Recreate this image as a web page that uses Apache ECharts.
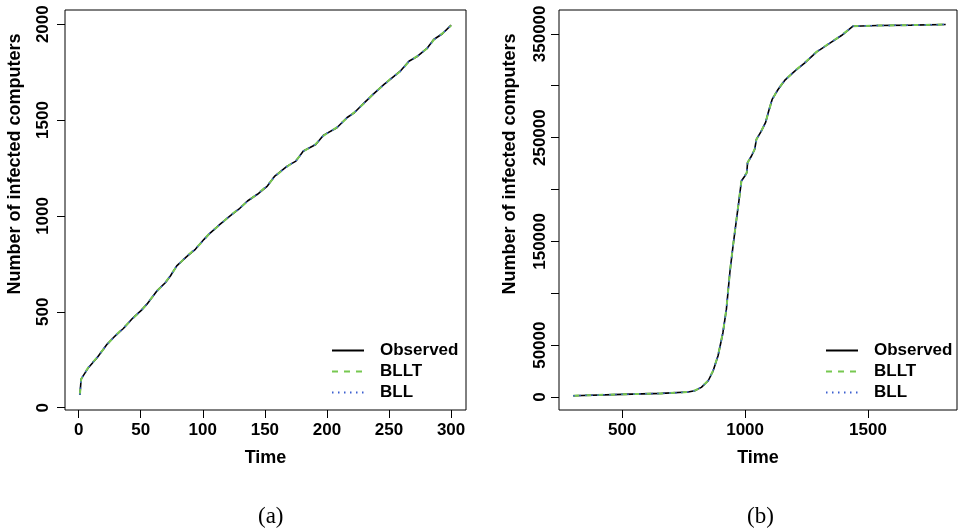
<!DOCTYPE html>
<html>
<head>
<meta charset="utf-8">
<script src="https://cdn.jsdelivr.net/npm/echarts@6/dist/echarts.min.js"></script>
<style>
  html, body { margin: 0; padding: 0; background: #fff; }
  #chart { width: 958px; height: 530px; }
</style>
</head>
<body>
<div id="chart"></div>
<script>
// panel (a): first 300 time steps
const timeA = [1, 2, 4, 8, 15, 23, 29.5, 36, 44, 50, 55, 63, 70, 74, 79, 87, 94, 101, 105, 114, 122, 129, 136, 144, 152, 158, 168, 175, 181, 191, 197, 208, 216, 222, 230, 238, 246, 251, 259, 266, 273, 281, 286, 293, 300];
const observedA = [66, 149, 170, 210, 262, 332, 375, 413, 470, 505, 540, 609, 653, 688, 740, 788, 826, 878, 905, 957, 1000, 1035, 1078, 1113, 1156, 1208, 1260, 1286, 1339, 1373, 1420, 1460, 1512, 1538, 1590, 1639, 1686, 1712, 1755, 1807, 1833, 1877, 1920, 1950, 1995];
const blltA = [68, 147, 172, 212, 264, 330, 376, 415, 468, 503, 542, 607, 655, 690, 738, 790, 828, 876, 907, 955, 1002, 1037, 1076, 1115, 1158, 1206, 1258, 1288, 1337, 1375, 1418, 1462, 1510, 1540, 1588, 1641, 1684, 1714, 1753, 1805, 1835, 1875, 1918, 1952, 1993];
const bllA = [67, 148, 171, 211, 263, 331, 375, 414, 469, 504, 541, 608, 654, 689, 739, 789, 827, 877, 906, 956, 1001, 1036, 1077, 1114, 1157, 1207, 1259, 1287, 1338, 1374, 1419, 1461, 1511, 1539, 1589, 1640, 1685, 1713, 1754, 1806, 1834, 1876, 1919, 1951, 1994];

// panel (b): full period
const timeB = [301, 500, 660, 768, 795, 822, 850, 870, 890, 910, 924, 938, 951, 965, 974, 985, 999, 1007, 1010, 1026, 1039, 1046, 1066, 1083, 1096, 1110, 1134, 1161, 1202, 1243, 1290, 1351, 1392, 1439, 1541, 1676, 1816];
const observedB = [1300, 2600, 3500, 4800, 6100, 9300, 15700, 25300, 39800, 62200, 84700, 120000, 145700, 171300, 187400, 208200, 213000, 216200, 225900, 232300, 238700, 248300, 256300, 264400, 275600, 286800, 296400, 305100, 314100, 322100, 332400, 342000, 348400, 357400, 358000, 358400, 359000];
const blltB = [1300, 2600, 3500, 4800, 6200, 9400, 15900, 25500, 40100, 62500, 85000, 120300, 146000, 171500, 187600, 208000, 213200, 216400, 225700, 232500, 238900, 248100, 256500, 264600, 275400, 286600, 296600, 305300, 314300, 322300, 332600, 342200, 348600, 357400, 358000, 358400, 359000];
const bllB = [1300, 2600, 3500, 4800, 6150, 9350, 15800, 25400, 39900, 62300, 84800, 120100, 145800, 171400, 187500, 208100, 213100, 216300, 225800, 232400, 238800, 248200, 256400, 264500, 275500, 286700, 296500, 305200, 314200, 322200, 332500, 342100, 348500, 357400, 358000, 358400, 359000];

const ticksA_x = [0, 50, 100, 150, 200, 250, 300];
const ticksA_y = [0, 500, 1000, 1500, 2000];
const ticksB_x = [500, 1000, 1500];
const ticksB_y = [0, 50000, 100000, 150000, 200000, 250000, 300000, 350000];
const labelsB_y = [0, 50000, 150000, 250000, 350000];

const font = "Liberation Sans, Arial, sans-serif";
const pair = (xs, ys) => xs.map((x, i) => [x, ys[i]]);

const xAxisOf = (idx, min, max, ticks) => ({
  type: "value",
  gridIndex: idx,
  min: min,
  max: max,
  name: "Time",
  nameLocation: "middle",
  nameGap: 39,
  nameTextStyle: { fontFamily: font, fontWeight: "bold", fontSize: 18, color: "#000" },
  axisLine: { show: false, onZero: false },
  axisTick: { show: true, inside: false, length: 8, lineStyle: { color: "#000" }, customValues: ticks },
  axisLabel: {
    customValues: ticks,
    margin: 12,
    fontFamily: font, fontWeight: "bold", fontSize: 17, color: "#000",
    formatter: v => String(v)
  },
  splitLine: { show: false }
});

const yAxisOf = (idx, min, max, ticks, labels) => ({
  type: "value",
  gridIndex: idx,
  min: min,
  max: max,
  name: "Number of infected computers",
  nameLocation: "middle",
  nameRotate: 90,
  nameGap: idx === 0 ? 41 : 40,
  nameTextStyle: {
    fontFamily: font, fontWeight: "bold", fontSize: 18, color: "#000",
    padding: [0, 0, 0, 92]
  },
  axisLine: { show: false, onZero: false },
  axisTick: { show: true, inside: false, length: 8, lineStyle: { color: "#000" }, customValues: ticks },
  axisLabel: {
    customValues: labels,
    rotate: 90,
    margin: idx === 0 ? 13 : 10,
    fontFamily: font, fontWeight: "bold", fontSize: 17, color: "#000",
    formatter: v => String(v)
  },
  splitLine: { show: false }
});

const seriesOf = (idx, xs, obs, bllt, bll) => [
  {
    name: "Observed", type: "line", xAxisIndex: idx, yAxisIndex: idx,
    data: pair(xs, obs), symbol: "none", smooth: false,
    lineStyle: { color: "#000", width: 1.6, type: "solid" }, itemStyle: { color: "#000" }
  },
  {
    name: "BLLT", type: "line", xAxisIndex: idx, yAxisIndex: idx,
    data: pair(xs, bllt), symbol: "none", smooth: false,
    lineStyle: { color: "#77c850", width: 2, type: [6, 6] }, itemStyle: { color: "#77c850" }
  },
  {
    name: "BLL", type: "line", xAxisIndex: idx, yAxisIndex: idx,
    data: pair(xs, bll), symbol: "none", smooth: false,
    lineStyle: { color: "#3c5fd0", width: 1.5, type: [1.5, 4.5] }, itemStyle: { color: "#3c5fd0" }
  }
];

const legendOf = left => ({
  orient: "vertical",
  left: left,
  top: 342,
  padding: 0,
  itemWidth: 32,
  itemHeight: 14,
  itemGap: 4,
  selectedMode: false,
  data: ["Observed", "BLLT", "BLL"],
  itemStyle: { opacity: 0 },
  textStyle: { fontFamily: font, fontWeight: "bold", fontSize: 17, color: "#000", padding: [0, 0, 0, 11] }
});

const myChart = echarts.init(document.getElementById("chart"), null, { renderer: "canvas" });

const option = {
  animation: false,
  backgroundColor: "#fff",
  title: [
    { text: "(a)", left: 253, top: 500, textStyle: { fontFamily: "Liberation Serif, serif", fontWeight: "normal", fontSize: 23, color: "#000" } },
    { text: "(b)", left: 742, top: 500, textStyle: { fontFamily: "Liberation Serif, serif", fontWeight: "normal", fontSize: 23, color: "#000" } }
  ],
  grid: [
    { left: 65, top: 10, width: 401, height: 400, show: true, borderColor: "#000", borderWidth: 1, backgroundColor: "transparent" },
    { left: 559, top: 10, width: 398, height: 400, show: true, borderColor: "#000", borderWidth: 1, backgroundColor: "transparent" }
  ],
  xAxis: [
    xAxisOf(0, -11, 312, ticksA_x),
    xAxisOf(1, 243, 1862, ticksB_x)
  ],
  yAxis: [
    yAxisOf(0, -12, 2074, ticksA_y, ticksA_y),
    yAxisOf(1, -12500, 373000, ticksB_y, labelsB_y)
  ],
  legend: [legendOf(331), legendOf(825)],
  series: [
    ...seriesOf(0, timeA, observedA, blltA, bllA),
    ...seriesOf(1, timeB, observedB, blltB, bllB)
  ]
};

myChart.setOption(option);
window.addEventListener("resize", () => myChart.resize());
</script>
</body>
</html>
